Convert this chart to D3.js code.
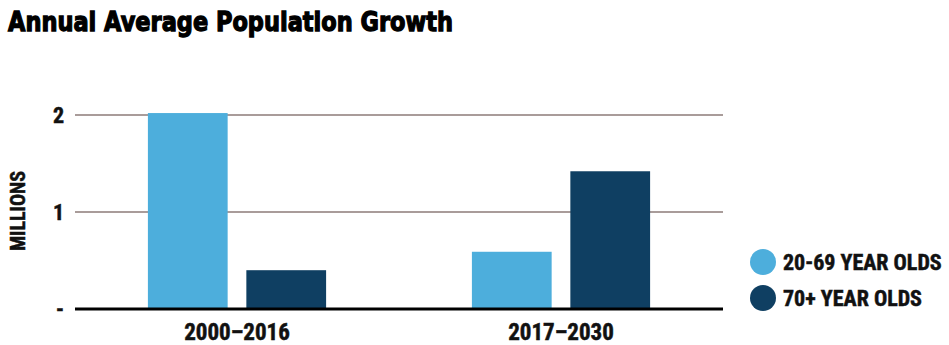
<!DOCTYPE html>
<html>
<head>
<meta charset="utf-8">
<script src="https://cdn.jsdelivr.net/npm/d3@7"></script>
<style>
  body { margin: 0; background: #fff; }
  .lbl { font-family: "Liberation Sans Narrow", "Roboto Condensed", "Liberation Sans", sans-serif; font-weight: bold; fill: #111; stroke: #111; stroke-width: 0.5; }
</style>
</head>
<body>
<div id="chart"></div>
<script>
// data
var periods = ["2000–2016", "2017–2030"];
var seriesNames = ["20-69 YEAR OLDS", "70+ YEAR OLDS"];
var young = [2.02, 0.59];
var old = [0.40, 1.42];
var yTicks = [0, 1, 2];
var tickText = ["-", "1", "2"];
var colors = ["#4daedc", "#0f3f62"];

var width = 949, height = 345;
var svg = d3.select("#chart").append("svg").attr("width", width).attr("height", height);

var rows = periods.map(function(p, i) { return {period: p, values: [young[i], old[i]]}; });

var x0 = d3.scaleBand().domain(periods).range([75, 723]).paddingInner(0.45).paddingOuter(0.225);
var x1 = d3.scaleBand().domain(seriesNames).range([0, x0.bandwidth()]).paddingInner(0.19);
var y = d3.scaleLinear().domain([0, 2]).range([309, 115]);

// title
svg.append("text").attr("x", 8).attr("y", 31)
  .attr("font-family", "DejaVu Sans").attr("font-weight", "bold")
  .attr("font-size", 26).attr("textLength", 445).attr("lengthAdjust", "spacingAndGlyphs")
  .attr("fill", "#000").attr("stroke", "#000").attr("stroke-width", 1.3)
  .text("Annual Average Population Growth");

// gridlines
svg.append("g").selectAll("line").data(yTicks.filter(function(d) { return d > 0; })).enter().append("line")
  .attr("x1", 75).attr("x2", 723)
  .attr("y1", function(d) { return y(d); }).attr("y2", function(d) { return y(d); })
  .attr("stroke", "#8d7b78").attr("stroke-width", 1.5);

// y tick labels
svg.append("g").selectAll("text").data(yTicks).enter().append("text")
  .attr("class", "lbl")
  .attr("x", 64).attr("y", function(d) { return y(d) + 8; })
  .attr("text-anchor", "end").attr("font-size", 22)
  .text(function(d, i) { return tickText[i]; });

svg.append("text").attr("class", "lbl")
  .attr("transform", "translate(25,211) rotate(-90)")
  .attr("text-anchor", "middle").attr("font-size", 20)
  .text("MILLIONS");

// bars
var grp = svg.append("g").selectAll("g").data(rows).enter().append("g")
  .attr("transform", function(d) { return "translate(" + x0(d.period) + ",0)"; });
grp.selectAll("rect").data(function(d) { return d.values; }).enter().append("rect")
  .attr("x", function(d, i) { return x1(seriesNames[i]); })
  .attr("y", function(d) { return y(d); })
  .attr("width", x1.bandwidth())
  .attr("height", function(d) { return y(0) - y(d); })
  .attr("fill", function(d, i) { return colors[i]; });

// baseline
svg.append("line").attr("x1", 75).attr("x2", 723).attr("y1", y(0)).attr("y2", y(0))
  .attr("stroke", "#000").attr("stroke-width", 3);

// x labels
svg.append("g").selectAll("text").data(periods).enter().append("text")
  .attr("class", "lbl")
  .attr("x", function(d) { return x0(d) + x0.bandwidth() / 2; })
  .attr("y", 340).attr("text-anchor", "middle").attr("font-size", 23)
  .text(function(d) { return d; });

// legend
var leg = svg.append("g").selectAll("g").data(seriesNames).enter().append("g")
  .attr("transform", function(d, i) { return "translate(763," + (262 + i * 36) + ")"; });
leg.append("circle").attr("r", 13).attr("fill", function(d, i) { return colors[i]; });
leg.append("text").attr("class", "lbl").attr("x", 20).attr("y", 8)
  .attr("font-size", 22).text(function(d) { return d; });
</script>
</body>
</html>
